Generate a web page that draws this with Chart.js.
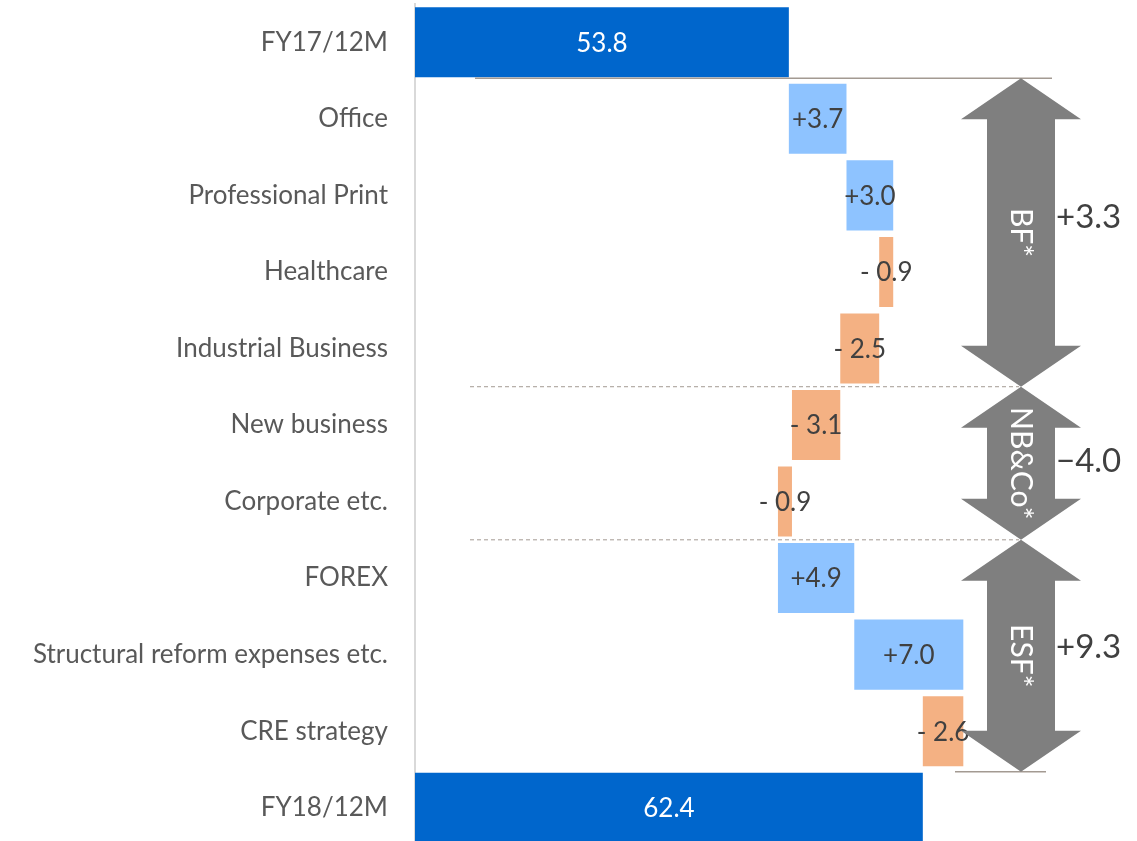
<!DOCTYPE html>
<html>
<head>
<meta charset="utf-8">
<script src="https://cdn.jsdelivr.net/npm/chart.js@4"></script>
<style>
  body { margin: 0; background: #fff; overflow: hidden; }
</style>
</head>
<body>
<canvas id="myChart" width="1137" height="846"></canvas>
<script>
// categories top to bottom
const categories = ['FY17/12M', 'Office', 'Professional Print', 'Healthcare', 'Industrial Business',
  'New business', 'Corporate etc.', 'FOREX', 'Structural reform expenses etc.', 'CRE strategy', 'FY18/12M'];
const startTotal = 53.8;
const endTotal = 62.4;
const changes = [3.7, 3.0, -0.9, -2.5, -3.1, -0.9, 4.9, 7.0, -2.6];
const valueLabels = ['53.8', '+3.7', '+3.0', '- 0.9', '- 2.5', '- 3.1', '- 0.9', '+4.9', '+7.0', '- 2.6', '62.4'];
// brackets on the right: name, total, first row, last row
const groupNames = ['BF*', 'NB&Co*', 'ESF*'];
const groupTotals = ['+3.3', '\u22124.0', '+9.3'];
const groupFirst = [1, 5, 7];
const groupLast = [4, 6, 9];

const X_MIN = 29.8;
const X_MAX = 76.15;

const DARK_BLUE = '#0066CC';
const LIGHT_BLUE = '#8EC3FF';
const ORANGE = '#F4B183';
const ARROW_GREY = '#7F7F7F';
const LINE_COLOR = '#A39A92';

// build floating bars from the running total
let barData = [[X_MIN, startTotal]];
let colors = [DARK_BLUE];
let running = startTotal;
for (let i = 0; i < changes.length; i++) {
  let next = Math.round((running + changes[i]) * 10) / 10;
  barData.push([running, next]);
  colors.push(changes[i] >= 0 ? LIGHT_BLUE : ORANGE);
  running = next;
}
barData.push([X_MIN, endTotal]);
colors.push(DARK_BLUE);

function drawArrow(ctx, cx, top, bottom, shaftW, headW, headH) {
  ctx.beginPath();
  ctx.moveTo(cx, top);
  ctx.lineTo(cx + headW / 2, top + headH);
  ctx.lineTo(cx + shaftW / 2, top + headH);
  ctx.lineTo(cx + shaftW / 2, bottom - headH);
  ctx.lineTo(cx + headW / 2, bottom - headH);
  ctx.lineTo(cx, bottom);
  ctx.lineTo(cx - headW / 2, bottom - headH);
  ctx.lineTo(cx - shaftW / 2, bottom - headH);
  ctx.lineTo(cx - shaftW / 2, top + headH);
  ctx.lineTo(cx - headW / 2, top + headH);
  ctx.closePath();
  ctx.fill();
}

const waterfallExtras = {
  id: 'waterfallExtras',
  afterDatasetsDraw(chart) {
    const ctx = chart.ctx;
    const area = chart.chartArea;
    const bars = chart.getDatasetMeta(0).data;
    const half = bars[0].height / 2;
    const boundary = (i) => (bars[i].y + bars[i + 1].y) / 2;

    ctx.save();
    // value labels
    ctx.font = '26px Lato';
    ctx.textAlign = 'center';
    ctx.textBaseline = 'middle';
    bars.forEach((bar, i) => {
      const isTotal = i == 0 || i == bars.length - 1;
      ctx.fillStyle = isTotal ? '#FFFFFF' : '#404040';
      ctx.fillText(valueLabels[i], (bar.x + bar.base) / 2, bar.y + 1);
    });

    // connector lines
    ctx.strokeStyle = LINE_COLOR;
    ctx.lineWidth = 1.5;
    let yTop = bars[0].y + half + 1;
    ctx.beginPath();
    ctx.moveTo(area.left + 60, yTop);
    ctx.lineTo(area.right - 85, yTop);
    ctx.stroke();
    let yBot = bars[bars.length - 1].y - half - 1;
    ctx.beginPath();
    ctx.moveTo(area.right - 182, yBot);
    ctx.lineTo(area.right - 91, yBot);
    ctx.stroke();
    ctx.setLineDash([4, 3]);
    ctx.lineWidth = 1;
    [groupLast[0], groupLast[1]].forEach(r => {
      let y = boundary(r);
      ctx.beginPath();
      ctx.moveTo(area.left + 55, y);
      ctx.lineTo(area.right - 118, y);
      ctx.stroke();
    });
    ctx.setLineDash([]);

    // arrows
    const cx = area.right - 116;
    const shift = [-15, -2, -8];
    for (let g = 0; g < groupNames.length; g++) {
      let top = groupFirst[g] == 1 ? yTop : boundary(groupFirst[g] - 1);
      let bottom = groupLast[g] == bars.length - 2 ? yBot : boundary(groupLast[g]);
      ctx.fillStyle = ARROW_GREY;
      drawArrow(ctx, cx, top, bottom, 68, 120, 41);
      let mid = (top + bottom) / 2;
      ctx.save();
      ctx.translate(cx, mid);
      ctx.rotate(Math.PI / 2);
      ctx.fillStyle = '#FFFFFF';
      ctx.font = '30px Lato';
      ctx.textAlign = 'center';
      ctx.textBaseline = 'middle';
      ctx.fillText(groupNames[g], 0, 0);
      ctx.restore();
      ctx.fillStyle = '#404040';
      ctx.font = '33px Lato';
      ctx.textAlign = 'left';
      ctx.textBaseline = 'middle';
      ctx.fillText(groupTotals[g], cx + 35, mid + shift[g]);
    }
    ctx.restore();
  }
};

const config = {
  type: 'bar',
  data: {
    labels: categories,
    datasets: [{
      data: barData,
      backgroundColor: colors,
      borderWidth: 0,
      barPercentage: 0.915,
      categoryPercentage: 1.0
    }]
  },
  options: {
    indexAxis: 'y',
    responsive: false,
    animation: false,
    layout: { padding: { top: 4, right: 0, bottom: 0, left: 0 } },
    plugins: {
      legend: { display: false },
      tooltip: { enabled: false }
    },
    scales: {
      x: {
        display: false,
        min: X_MIN,
        max: X_MAX
      },
      y: {
        afterFit: function(scale) {
          scale.width = 415;
          scale.paddingTop = 0;
          scale.paddingBottom = 0;
        },
        grid: { display: false, drawTicks: false },
        border: { display: true, color: '#D9D9D9', width: 2 },
        ticks: {
          color: '#595959',
          font: { family: 'Lato', size: 26 },
          padding: 27
        }
      }
    }
  },
  plugins: [waterfallExtras]
};

new Chart(document.getElementById('myChart'), config);
</script>
</body>
</html>
